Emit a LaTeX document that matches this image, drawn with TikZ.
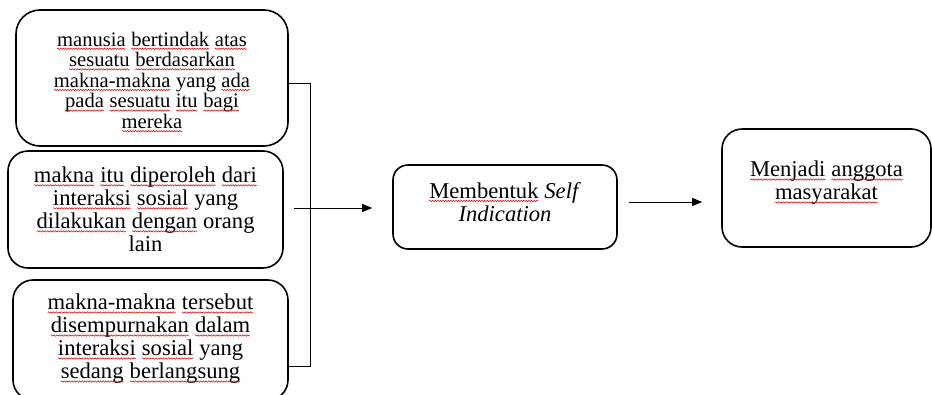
\documentclass[tikz,border=0pt]{standalone}
\usepackage{fontspec}
\setmainfont{Liberation Serif}
\usetikzlibrary{arrows.meta,decorations.pathmorphing}
\newcommand\sq[1]{\tikz[baseline=(sqw.base)]{\node[inner sep=0pt,outer sep=0pt] (sqw) {#1};
  \draw[red!85!black, line width=0.5pt, decorate, decoration={snake,amplitude=0.7pt,segment length=2.6pt}]
   ([yshift=-2.6pt]sqw.base west) -- ([yshift=-2.6pt]sqw.base east);}}
\begin{document}
\begin{tikzpicture}[x=1pt,y=-1pt,
  box/.style={draw, line width=1.6pt, inner sep=0pt},
  txt/.style={align=center, inner sep=0pt, font=\fontsize{22.6}{23}\selectfont},
  conn/.style={line width=0.9pt},
  arr/.style={conn, -{Triangle[length=10pt,width=8pt]}}]
\useasboundingbox (0,0) rectangle (933,394);
% boxes
\node[box, rounded corners=24pt, minimum width=272pt, minimum height=136pt] (b1) at (152,78) {};
\node[box, rounded corners=20pt, minimum width=275pt, minimum height=117pt] (b2) at (145.5,209.5) {};
\node[box, rounded corners=20pt, minimum width=275pt, minimum height=120pt] (b3) at (150.5,340) {};
\node[box, rounded corners=15pt, minimum width=224pt, minimum height=84pt] (b4) at (505,207) {};
\node[box, rounded corners=20pt, minimum width=209pt, minimum height=118pt] (b5) at (826.5,188) {};
% texts
\node[txt, font=\fontsize{20.6}{20.6}\selectfont] (t1) at ([yshift=-4pt]b1.center)
  {\sq{manusia} \sq{bertindak} \sq{atas}\\ \sq{sesuatu} \sq{berdasarkan}\\ \sq{makna-makna} yang \sq{ada}\\ \sq{pada} \sq{sesuatu} \sq{itu} \sq{bagi}\\ \sq{mereka}};
\node[txt] (t2) at ([yshift=0pt]b2.center)
  {\sq{makna} \sq{itu} \sq{diperoleh} \sq{dari}\\ \sq{interaksi} \sq{sosial} yang\\ \sq{dilakukan} \sq{dengan} orang\\ lain};
\node[txt] (t3) at ([yshift=1pt]b3.center)
  {\sq{makna-makna} \sq{tersebut}\\ \sq{disempurnakan} \sq{dalam}\\ \sq{interaksi} \sq{sosial} yang\\ \sq{sedang} \sq{berlangsung}};
\node[txt] (t4) at ([yshift=5pt]b4.center)
  {\sq{Membentuk} \textit{Self}\\ \textit{Indication}};
\node[txt] (t5) at ([yshift=5pt]b5.center)
  {\sq{Menjadi} \sq{anggota}\\ \sq{masyarakat}};
% connectors
\coordinate (top) at (310,83);
\coordinate (bot) at (310,366);
\coordinate (s1) at (294,208);
\coordinate (s2) at (629,202);
\draw[conn] (b1.east |- top) -- (top) -- (bot) -- (b3.east |- bot);
\draw[arr] (s1) -- ([xshift=-20pt]b4.west |- s1);
\draw[arr] (s2) -- ([xshift=-19pt]b5.west |- s2);
\end{tikzpicture}
\end{document}
